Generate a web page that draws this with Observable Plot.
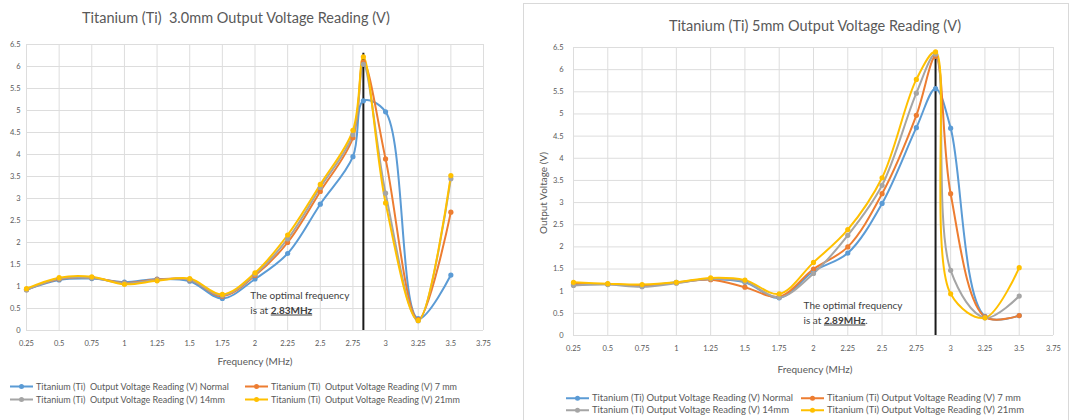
<!DOCTYPE html>
<html>
<head>
<meta charset="utf-8">
<script src="https://cdn.jsdelivr.net/npm/d3@7"></script>
<script src="https://cdn.jsdelivr.net/npm/@observablehq/plot@0.6"></script>
<style>
  body { margin: 0; background: #fff; font-family: Lato, "Open Sans", sans-serif; }
  #root { position: relative; width: 1071px; height: 420px; overflow: hidden; background: #fff; }
  .abs { position: absolute; }
  .title { font-size: 14.5px; color: #595959; white-space: pre; transform: translate(-50%, -50%); }
  .axis-label { font-size: 10px; color: #595959; white-space: pre; transform: translate(-50%, -50%); }
  .ylabel { font-size: 10px; color: #595959; white-space: pre; transform: translate(-50%, -50%) rotate(-90deg); }
  .legend-item { display: flex; align-items: center; color: #595959; white-space: pre; transform: translateY(-50%); line-height: 1; }
  .legend-item svg { margin-right: 3px; }
  .panel { border: 1px solid #d9d9d9; }
</style>
</head>
<body>
<div id="root"></div>
<script>
// Shared axes
const freqTicks = [0.25, 0.5, 0.75, 1, 1.25, 1.5, 1.75, 2, 2.25, 2.5, 2.75, 3, 3.25, 3.5, 3.75];
const voltTicks = [0, 0.5, 1, 1.5, 2, 2.5, 3, 3.5, 4, 4.5, 5, 5.5, 6, 6.5];
const seriesKeys = ["Normal", "7 mm", "14mm", "21mm"];
const seriesColors = ["#5b9bd5", "#ed7d31", "#a5a5a5", "#ffc000"];

// Titanium 3.0 mm plate
const optimal3 = 2.83;
const freq3 = [0.25, 0.5, 0.75, 1, 1.25, 1.5, 1.75, 2, 2.25, 2.5, 2.75, optimal3, 3, 3.25, 3.5];
const normal3 = [0.93, 1.15, 1.18, 1.10, 1.17, 1.12, 0.73, 1.17, 1.75, 2.87, 3.95, 5.22, 4.97, 0.27, 1.26];
const mm7_3   = [0.93, 1.17, 1.20, 1.08, 1.16, 1.15, 0.78, 1.25, 2.00, 3.16, 4.38, 6.10, 3.90, 0.25, 2.69];
const mm14_3  = [0.92, 1.18, 1.20, 1.07, 1.15, 1.16, 0.80, 1.28, 2.08, 3.25, 4.45, 6.05, 3.12, 0.22, 3.45];
const mm21_3  = [0.95, 1.20, 1.22, 1.05, 1.13, 1.18, 0.82, 1.31, 2.17, 3.32, 4.55, 6.22, 2.90, 0.23, 3.52];

// Titanium 5 mm plate
const optimal5 = 2.89;
const freq5 = [0.25, 0.5, 0.75, 1, 1.25, 1.5, 1.75, 2, 2.25, 2.5, 2.75, optimal5, 3, 3.25, 3.5];
const normal5 = [1.15, 1.16, 1.12, 1.20, 1.27, 1.20, 0.85, 1.45, 1.86, 2.98, 4.69, 5.57, 4.68, 0.43, 0.45];
const mm7_5   = [1.17, 1.16, 1.13, 1.19, 1.26, 1.09, 0.88, 1.50, 2.00, 3.20, 4.97, 6.30, 3.20, 0.42, 0.45];
const mm14_5  = [1.13, 1.15, 1.10, 1.18, 1.28, 1.22, 0.86, 1.40, 2.26, 3.39, 5.47, 6.35, 1.47, 0.40, 0.89];
const mm21_5  = [1.20, 1.17, 1.15, 1.20, 1.30, 1.25, 0.94, 1.65, 2.39, 3.56, 5.78, 6.40, 0.94, 0.40, 1.53];

const root = document.getElementById("root");
const plain = d => `${d}`;

function place(el, left, top) {
  el.classList.add("abs");
  el.style.left = left + "px";
  el.style.top = top + "px";
  root.appendChild(el);
  return el;
}

function textDiv(cls, text, left, top) {
  const d = document.createElement("div");
  d.className = cls;
  d.textContent = text;
  return place(d, left, top);
}

function chart({freqs, values, optimal, ruleTop, width, height, margins, yPad, noteDx, noteDy1, noteDy2, noteSuffix}) {
  const data = seriesKeys.flatMap((key, i) =>
    freqs.map((f, j) => ({freq: f, volt: values[i][j], series: key}))
  );
  const secondLine = `is at ${optimal}MHz${noteSuffix}`;
  const svg = Plot.plot({
    width, height,
    ...margins,
    style: {background: "transparent", fontFamily: "Lato, 'Open Sans', sans-serif", fontSize: "7.5px", color: "#595959"},
    x: {domain: [0.25, 3.75]},
    y: {domain: [0, 6.5]},
    color: {domain: seriesKeys, range: seriesColors},
    marks: [
      Plot.gridX(freqTicks, {stroke: "#dddddd", strokeOpacity: 1}),
      Plot.gridY(voltTicks, {stroke: "#dddddd", strokeOpacity: 1}),
      Plot.axisX(freqTicks, {tickSize: 0, tickPadding: 10, tickFormat: plain, label: null, fill: "#595959"}),
      Plot.axisY(voltTicks, {tickSize: 0, tickPadding: yPad, tickFormat: plain, label: null, fill: "#595959"}),
      Plot.line(data, {x: "freq", y: "volt", z: "series", stroke: "series", strokeWidth: 2, curve: "catmull-rom"}),
      Plot.ruleX([optimal], {y1: 0, y2: ruleTop, stroke: "#1a1a1a", strokeWidth: 2}),
      Plot.dot(data, {x: "freq", y: "volt", fill: "series", r: 2.6}),
      Plot.text(["The optimal frequency"], {x: () => optimal, frameAnchor: "bottom", dx: noteDx, dy: noteDy1, textAnchor: "start", fontSize: 10, fill: "#404040"}),
      Plot.text([secondLine], {x: () => optimal, frameAnchor: "bottom", dx: noteDx, dy: noteDy2, textAnchor: "start", fontSize: 10, fill: "#404040"})
    ]
  });
  // Bold, underlined frequency inside the note
  d3.select(svg).selectAll("text").filter(function () { return this.textContent === secondLine; })
    .each(function () {
      const t = d3.select(this);
      t.text(null);
      t.append("tspan").text("is at ");
      t.append("tspan").attr("font-weight", "bold").style("text-decoration", "underline").text(`${optimal}MHz`);
      if (noteSuffix) t.append("tspan").text(noteSuffix);
    });
  return svg;
}

function legendItem(label, color, left, top, size) {
  const d = document.createElement("div");
  d.className = "legend-item";
  d.style.fontSize = size + "px";
  const ns = "http://www.w3.org/2000/svg";
  const s = document.createElementNS(ns, "svg");
  s.setAttribute("width", 23); s.setAttribute("height", 8);
  const l = document.createElementNS(ns, "line");
  l.setAttribute("x1", 0); l.setAttribute("x2", 23); l.setAttribute("y1", 4); l.setAttribute("y2", 4);
  l.setAttribute("stroke", color); l.setAttribute("stroke-width", 2);
  const c = document.createElementNS(ns, "circle");
  c.setAttribute("cx", 11.5); c.setAttribute("cy", 4); c.setAttribute("r", 2.5); c.setAttribute("fill", color);
  s.appendChild(l); s.appendChild(c);
  d.appendChild(s);
  const span = document.createElement("span");
  span.textContent = label;
  d.appendChild(span);
  return place(d, left, top);
}

// Right-hand panel frame
const frame = document.createElement("div");
frame.className = "panel";
frame.style.width = "544px";
frame.style.height = "440px";
place(frame, 523, 3);

// Left chart: 3.0 mm
const left = chart({
  freqs: freq3, values: [normal3, mm7_3, mm14_3, mm21_3], optimal: optimal3, ruleTop: 6.3,
  width: 520, height: 352,
  margins: {marginLeft: 26, marginRight: 37, marginTop: 44, marginBottom: 22},
  yPad: 6, noteDx: -113, noteDy1: -32, noteDy2: -17, noteSuffix: ""
});
place(left, 0, 0);
textDiv("title", "Titanium (Ti)  3.0mm Output Voltage Reading (V)", 236, 17);
textDiv("axis-label", "Frequency (MHz)", 255, 361);

// Right chart: 5 mm
const right = chart({
  freqs: freq5, values: [normal5, mm7_5, mm14_5, mm21_5], optimal: optimal5, ruleTop: 6.42,
  width: 551, height: 357,
  margins: {marginLeft: 53, marginRight: 18, marginTop: 47, marginBottom: 22},
  yPad: 10, noteDx: -132, noteDy1: -27, noteDy2: -12, noteSuffix: "."
});
place(right, 520, 0);
textDiv("title", "Titanium (Ti) 5mm Output Voltage Reading (V)", 815, 25);
textDiv("axis-label", "Frequency (MHz)", 815, 369);
textDiv("ylabel", "Output Voltage (V)", 543, 193);

// Legends
const leftPrefix = "Titanium (Ti)  Output Voltage Reading (V) ";
const rightPrefix = "Titanium (Ti) Output Voltage Reading (V) ";
const leftCols = [10, 245], leftRows = [386, 399];
const rightCols = [566, 801], rightRows = [398, 410];
seriesKeys.forEach((key, i) => {
  const col = i % 2, row = Math.floor(i / 2);
  legendItem(leftPrefix + key, seriesColors[i], leftCols[col], leftRows[row], 9);
  legendItem(rightPrefix + key, seriesColors[i], rightCols[col], rightRows[row], 9.5);
});
</script>
</body>
</html>
